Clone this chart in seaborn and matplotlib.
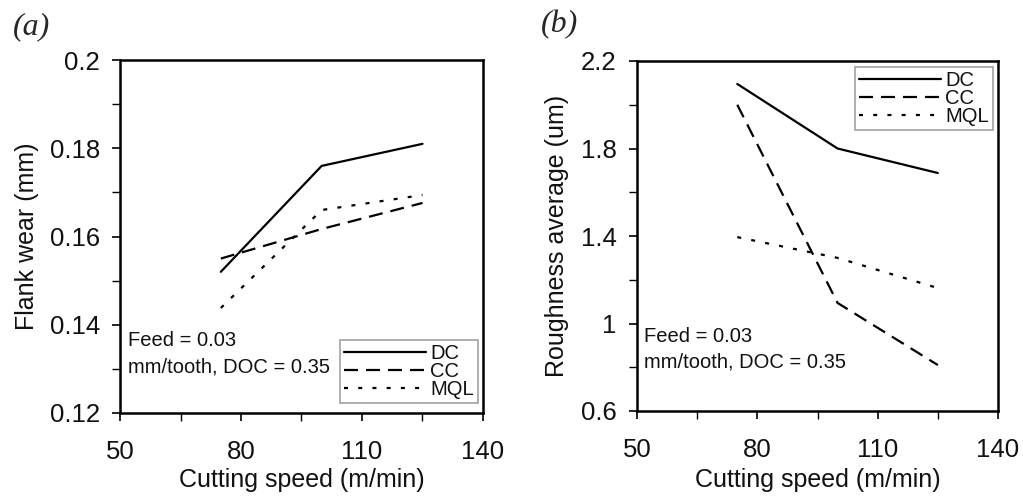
import matplotlib
matplotlib.use("Agg")
import matplotlib.pyplot as plt
from matplotlib.ticker import FixedLocator, FuncFormatter
import seaborn as sns
import pandas as pd

# Cutting speeds (m/min)
speeds = [75, 100, 125]
methods = ["DC", "CC", "MQL"]

# Flank wear (mm)
wear_dc = [0.152, 0.176, 0.181]
wear_cc = [0.155, 0.1617, 0.1676]
wear_mql = [0.1438, 0.166, 0.1694]

# Roughness average (um)
rough_dc = [2.095, 1.80, 1.688]
rough_cc = [2.00, 1.094, 0.81]
rough_mql = [1.395, 1.30, 1.162]

x_ticks = [50, 80, 110, 140]
wear_ticks = [0.12, 0.14, 0.16, 0.18, 0.2]
rough_ticks = [0.6, 1.0, 1.4, 1.8, 2.2]


def long_frame(series):
    rows = []
    for m, vals in zip(methods, series):
        for s, v in zip(speeds, vals):
            rows.append({"speed": s, "value": v, "Method": m})
    return pd.DataFrame(rows)


df_wear = long_frame([wear_dc, wear_cc, wear_mql])
df_rough = long_frame([rough_dc, rough_cc, rough_mql])

sns.set_theme(style="white")
plt.rcParams["font.family"] = ["Liberation Sans", "DejaVu Sans"]

dash_styles = {"DC": "", "CC": (6.3, 3.6), "MQL": (1.8, 4.6)}

fig = plt.figure(figsize=(10.23, 4.99), dpi=100)
W, H = 1023, 499


def fx(px):
    return px / W


def fy(py):
    return 1 - py / H


ax1 = fig.add_axes([fx(120), fy(413), 363 / W, 353 / H])
ax2 = fig.add_axes([fx(637), fy(411), 361 / W, 350 / H])

panels = [
    dict(ax=ax1, df=df_wear, ylab="Flank wear (mm)", yticks=wear_ticks,
         ylabx=(27 - 120) / 363, xlaby=(413 - 480) / 353,
         leg=dict(loc="lower right", anchor=(478, 403)),
         note=[(128, 340), (128, 367)]),
    dict(ax=ax2, df=df_rough, ylab="Roughness average (um)", yticks=rough_ticks,
         ylabx=(557 - 637) / 361, xlaby=(411 - 480) / 350,
         leg=dict(loc="upper right", anchor=(993, 67)),
         note=[(644, 337), (644, 362)]),
]

for p in panels:
    ax = p["ax"]
    sns.lineplot(data=p["df"], x="speed", y="value", style="Method",
                 style_order=methods, dashes=dash_styles, color="black",
                 linewidth=1.6, ax=ax, legend=True)
    yt = p["yticks"]
    ax.set_xlim(x_ticks[0], x_ticks[-1])
    ax.set_ylim(yt[0], yt[-1])
    ax.xaxis.set_major_locator(FixedLocator(x_ticks))
    ax.xaxis.set_minor_locator(FixedLocator(
        [(a + b) / 2 for a, b in zip(x_ticks[:-1], x_ticks[1:])]))
    ax.yaxis.set_major_locator(FixedLocator(yt))
    ax.yaxis.set_minor_locator(FixedLocator(
        [(a + b) / 2 for a, b in zip(yt[:-1], yt[1:])]))
    ax.yaxis.set_major_formatter(FuncFormatter(lambda v, pos: f"{v:g}"))
    ax.tick_params(which="both", direction="out", color="black",
                   left=True, bottom=True)
    ax.tick_params(which="major", length=6, width=1.2, labelsize=18.5,
                   labelcolor="#111111")
    ax.tick_params(axis="y", which="major", pad=8.5)
    ax.tick_params(axis="x", which="major", pad=13.5)
    ax.tick_params(which="minor", length=6, width=1.0)
    for sp in ax.spines.values():
        sp.set_color("black")
        sp.set_linewidth(1.8)
    ax.set_xlabel("Cutting speed (m/min)", fontsize=18, va="center",
                  color="#111111")
    ax.set_ylabel(p["ylab"], fontsize=18, va="center", color="#111111")
    ax.xaxis.set_label_coords(0.5, p["xlaby"])
    ax.yaxis.set_label_coords(p["ylabx"], 0.5)

    # Cutting-condition note in the lower left of each panel
    (x1, y1), (x2, y2) = p["note"]
    fig.text(fx(x1), fy(y1), "Feed = 0.03", fontsize=14.5, va="center",
             ha="left", color="#111111")
    fig.text(fx(x2), fy(y2), "mm/tooth, DOC = 0.35", fontsize=14.5,
             va="center", ha="left", color="#111111")

    lx, ly = p["leg"]["anchor"]
    leg = ax.legend(loc=p["leg"]["loc"], bbox_to_anchor=(fx(lx), fy(ly)),
                    bbox_transform=fig.transFigure, borderaxespad=0,
                    fontsize=14.5, frameon=True, fancybox=False,
                    handlelength=4.1, handletextpad=0.2, labelspacing=-0.05,
                    borderpad=0.2)
    leg.get_frame().set_edgecolor("#8a8a8a")
    leg.get_frame().set_linewidth(1.2)
    for t in leg.get_texts():
        t.set_color("#111111")

fig.text(fx(32), fy(27), "(a)", fontsize=23, style="italic", ha="center",
         family=["Liberation Serif", "DejaVu Serif"], va="center")
fig.text(fx(560), fy(25), "(b)", fontsize=23, style="italic", ha="center",
         family=["Liberation Serif", "DejaVu Serif"], va="center")

fig.savefig("out.png", dpi=100)
